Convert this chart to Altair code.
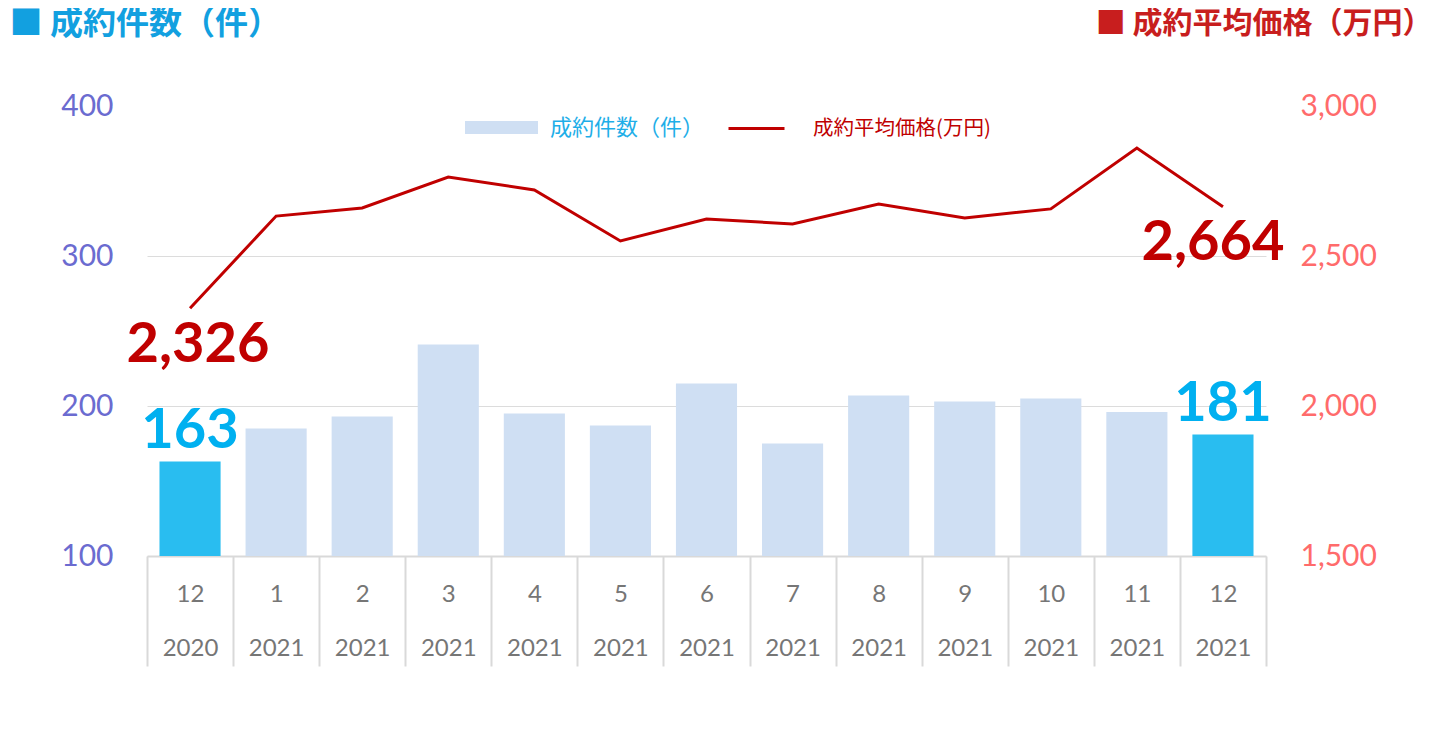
import altair as alt
import pandas as pd

months = ["12", "1", "2", "3", "4", "5", "6", "7", "8", "9", "10", "11", "12"]
years = ["2020", "2021", "2021", "2021", "2021", "2021", "2021", "2021", "2021", "2021", "2021", "2021", "2021"]
counts = [163, 185, 193, 241, 195, 187, 215, 175, 207, 203, 205, 196, 181]
prices = [2326, 2633, 2660, 2763, 2720, 2550, 2623, 2607, 2673, 2627, 2657, 2860, 2664]
highlight = [True, False, False, False, False, False, False, False, False, False, False, False, True]

BAR_NAME = "成約件数（件）"
LINE_NAME = "成約平均価格(万円)"

labels = [f"{m}|{y}" for m, y in zip(months, years)]
df = pd.DataFrame({
    "label": labels,
    "count": counts,
    "price": prices,
    "kind": [("hl" if h else BAR_NAME) for h in highlight],
    "series": [LINE_NAME] * len(labels),
    "idx": list(range(len(labels))),
})

JP = "Noto Sans CJK JP"
NUM = "Lato"

x_enc = alt.X(
    "label:N",
    sort=labels,
    scale=alt.Scale(paddingInner=0, paddingOuter=0),
    axis=alt.Axis(
        title=None,
        labelExpr="split(datum.label, '|')",
        labelAngle=0,
        labelFont=NUM,
        labelFontSize=24,
        labelColor="#767676",
        labelLineHeight=54,
        labelBaseline="top",
        labelPadding=-84,
        tickBand="extent",
        tickSize=110,
        tickColor="#d9d9d9",
        tickWidth=2,
        domainColor="#d9d9d9",
        domainWidth=2,
        grid=False,
    ),
)

base = alt.Chart(df).encode(x=x_enc)

left_scale = alt.Scale(domain=[100, 400], zero=False, nice=False)
left_axis = alt.Axis(
    orient="left",
    values=[100, 200, 300, 400],
    labelFont=NUM,
    labelFontSize=30,
    labelColor="#6b6bd0",
    labelPadding=34,
    domain=False,
    ticks=False,
    grid=True,
    gridColor={"condition": {"test": "datum.value >= 400", "value": "transparent"}, "value": "#dcdcdc"},
    gridWidth=1,
    title="■ 成約件数（件）",
    titleAngle=0,
    titleAlign="left",
    titleBaseline="middle",
    titleX=-138,
    titleY=-83,
    titleFont=JP,
    titleFontSize=33,
    titleFontWeight="bold",
    titleColor="#12a0e0",
)
y_left = alt.Y("count:Q", scale=left_scale, axis=left_axis)

bars = base.mark_bar(width={"band": 0.71}).encode(
    y=y_left,
    y2=alt.datum(100),
    fill=alt.Fill(
        "kind:N",
        scale=alt.Scale(domain=[BAR_NAME, "hl"], range=["#cfdff3", "#29bdf0"]),
        legend=alt.Legend(
            title=None,
            values=[BAR_NAME],
            orient="none",
            legendX=318,
            legendY=-15,
            padding=0,
            symbolType="M-1,-0.178L1,-0.178L1,0.178L-1,0.178Z",
            symbolSize=5329,
            symbolStrokeWidth=0,
            labelOffset=12,
            labelFont=JP,
            labelFontSize=22,
            labelColor="#1eaee8",
            labelLimit=400,
        ),
    ),
)

bar_text = base.transform_filter("datum.kind == 'hl'").mark_text(
    font=NUM, fontSize=56, fontWeight="bold", color="#00b0f0",
    align="center", baseline="alphabetic", dy=-14,
).encode(
    y=y_left,
    text=alt.Text("count:Q"),
)

left = alt.layer(bars, bar_text)

y_right_scale = alt.Scale(domain=[1500, 3000], zero=False, nice=False)
right_axis = alt.Axis(
    orient="right",
    values=[1500, 2000, 2500, 3000],
    labelExpr="format(datum.value, ',')",
    labelFont=NUM,
    labelFontSize=30,
    labelColor="#ff6b6b",
    labelPadding=34,
    domain=False,
    ticks=False,
    grid=False,
    title="■ 成約平均価格（万円）",
    titleAngle=0,
    titleAlign="right",
    titleBaseline="middle",
    titleX=166,
    titleY=-83,
    titleFont=JP,
    titleFontSize=30,
    titleFontWeight="bold",
    titleColor="#c81e1e",
)
y_right = alt.Y("price:Q", scale=y_right_scale, axis=right_axis)

line = base.mark_line(strokeWidth=3).encode(
    y=y_right,
    stroke=alt.Stroke(
        "series:N",
        scale=alt.Scale(domain=[LINE_NAME], range=["#c00000"]),
        legend=alt.Legend(
            title=None,
            orient="none",
            legendX=580,
            legendY=-7,
            padding=0,
            symbolType="stroke",
            symbolSize=3136,
            symbolStrokeWidth=3,
            labelOffset=27,
            labelFont=JP,
            labelFontSize=20.5,
            labelColor="#c00000",
            labelLimit=400,
        ),
    ),
)

line_text_first = base.transform_filter("datum.idx == 0").mark_text(
    font=NUM, fontSize=56, fontWeight="bold", color="#c00000",
    align="center", baseline="alphabetic", dx=8, dy=54,
).encode(
    y=y_right,
    text=alt.Text("price:Q", format=","),
)

line_text_last = base.transform_filter("datum.idx == 12").mark_text(
    font=NUM, fontSize=56, fontWeight="bold", color="#c00000",
    align="center", baseline="alphabetic", dx=-10, dy=53,
).encode(
    y=y_right,
    text=alt.Text("price:Q", format=","),
)

right = alt.layer(line, line_text_first, line_text_last)

chart = alt.layer(left, right).resolve_scale(
    y="independent", fill="independent", stroke="independent"
).properties(
    width=1119,
    height=450,
    autosize=alt.AutoSizeParams(type="none"),
    padding={"left": 139, "top": 98, "right": 166, "bottom": 150},
    background="white",
).configure_view(stroke=None)

chart.save("out.html", embed_options={"renderer": "svg", "actions": False})
